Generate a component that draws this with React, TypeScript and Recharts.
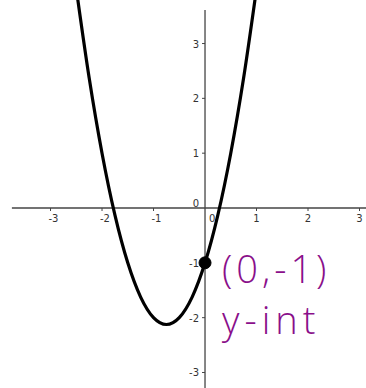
import React from 'react';
import { ComposedChart, Line, XAxis, YAxis, ReferenceLine, ReferenceDot } from 'recharts';

// parabola sampled along x
const curveX = [-2.5, -2.25, -2, -1.75, -1.5, -1.25, -1, -0.75, -0.5, -0.25, 0, 0.25, 0.5, 0.75, 1];
const curveY = [4, 2.375, 1, -0.125, -1, -1.625, -2, -2.125, -2, -1.625, -1, -0.125, 1, 2.375, 4];

const xTicks = [-3, -2, -1, 1, 2, 3];
const yTicks = [-3, -2, -1, 1, 2, 3];

const xDomain: [number, number] = [-3.981, 3.126];
const yDomain: [number, number] = [-3.283, 3.794];
const xAxisStart = -3.75;
const yAxisTop = 3.61;

const intercept = { x: 0, y: -1 };

const data = curveX.map((x, i) => ({ x, y: curveY[i] }));

const AXIS = '#444';
const LABEL = '#333';
const PURPLE = '#8a0f8a';
const font = { fontFamily: 'DejaVu Sans, sans-serif', fontSize: 10 };

// negative labels keep the digit over the tick, minus sign hangs left
const XTick = (t: number) => (props: any) => (
  <g>
    <line x1={props.cx} x2={props.cx} y1={props.cy} y2={props.cy + 3} stroke={AXIS} />
    <text x={props.cx + (t < 0 ? 3 : 0)} y={props.cy + 14} textAnchor="middle" fill={LABEL} {...font}>
      {String(t)}
    </text>
  </g>
);

const YTick = (t: number) => (props: any) => (
  <g>
    <line x1={props.cx - 3} x2={props.cx} y1={props.cy} y2={props.cy} stroke={AXIS} />
    <text x={props.cx - 6} y={props.cy + 4} textAnchor="end" fill={LABEL} {...font}>
      {String(t)}
    </text>
  </g>
);

const Origin = (props: any) => (
  <g>
    <text x={props.cx - 6} y={props.cy - 1} textAnchor="end" fill={LABEL} {...font}>0</text>
    <text x={props.cx + 4} y={props.cy + 14} fill={LABEL} {...font}>0</text>
  </g>
);

export default function App() {
  return (
    <div style={{ position: 'relative', width: 366, height: 388 }}>
      <style>{'body{margin:0}'}</style>
      <ComposedChart width={366} height={388} data={data} margin={{ top: 0, right: 0, bottom: 0, left: 0 }}>
        <XAxis type="number" dataKey="x" domain={xDomain} allowDataOverflow hide />
        <YAxis type="number" domain={yDomain} allowDataOverflow hide />
        <ReferenceLine segment={[{ x: xAxisStart, y: 0 }, { x: xDomain[1], y: 0 }]} stroke={AXIS} strokeWidth={1.3} />
        <ReferenceLine segment={[{ x: 0, y: yDomain[0] }, { x: 0, y: yAxisTop }]} stroke={AXIS} strokeWidth={1.3} />
        {xTicks.map((t) => (
          <ReferenceDot key={'x' + t} x={t} y={0} r={0} shape={XTick(t)} />
        ))}
        {yTicks.map((t) => (
          <ReferenceDot key={'y' + t} x={0} y={t} r={0} shape={YTick(t)} />
        ))}
        <ReferenceDot x={0} y={0} r={0} shape={Origin} />
        <Line
          type="monotone"
          dataKey="y"
          stroke="#000"
          strokeWidth={3.2}
          dot={false}
          isAnimationActive={false}
        />
        <ReferenceDot x={intercept.x} y={intercept.y} r={6} fill="#000" stroke="#000" />
      </ComposedChart>
      <div
        style={{
          position: 'absolute',
          left: 222,
          top: 246,
          color: PURPLE,
          fontFamily: 'Open Sans, sans-serif',
          fontWeight: 300,
          fontSize: 38,
          lineHeight: '44px',
          letterSpacing: 4,
        }}
      >
        (0,-1)
      </div>
      <div
        style={{
          position: 'absolute',
          left: 222,
          top: 297,
          color: PURPLE,
          fontFamily: 'Open Sans, sans-serif',
          fontWeight: 300,
          fontSize: 38,
          lineHeight: '44px',
          letterSpacing: 5,
        }}
      >
        y-int
      </div>
    </div>
  );
}
